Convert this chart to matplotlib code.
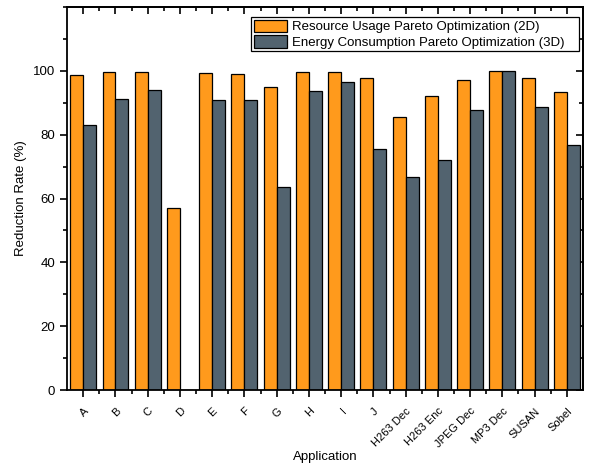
import matplotlib
matplotlib.use("Agg")
import matplotlib.pyplot as plt
import numpy as np
from matplotlib.ticker import MultipleLocator, FixedLocator

plt.rcParams['font.family'] = ['Liberation Sans', 'DejaVu Sans']

apps = ['A', 'B', 'C', 'D', 'E', 'F', 'G', 'H', 'I', 'J',
        'H263 Dec', 'H263 Enc', 'JPEG Dec', 'MP3 Dec', 'SUSAN', 'Sobel']
resource_2d = [98.8, 99.7, 99.7, 57.1, 99.2, 99.0, 94.8, 99.7, 99.7, 97.8,
               85.4, 92.2, 97.1, 100.0, 97.9, 93.5]
energy_3d = [83.0, 91.2, 93.9, 0.0, 90.8, 90.8, 63.6, 93.8, 96.6, 75.4,
             66.7, 72.1, 87.7, 99.8, 88.6, 76.8]

orange = '#FF9A1C'
slate = '#52636F'

fig = plt.figure(figsize=(5.89, 4.66), dpi=100)
ax = fig.add_axes([0.1138, 0.163, 0.876, 0.822])

x = np.arange(len(apps))
w = 0.4
ax.bar(x - w / 2, resource_2d, w, color=orange, edgecolor='black', linewidth=0.9,
       label='Resource Usage Pareto Optimization (2D)')
ax.bar(x + w / 2, energy_3d, w, color=slate, edgecolor='black', linewidth=0.9,
       label='Energy Consumption Pareto Optimization (3D)')

ax.set_xlim(-0.5, len(apps) - 0.5)
ax.set_ylim(0, 120)
ax.set_xticks(x)
ax.set_xticklabels(apps, rotation=45, ha='right', rotation_mode='anchor', fontsize=8)
ax.xaxis.set_minor_locator(FixedLocator(x[:-1] + 0.5))
ax.set_yticks([0, 20, 40, 60, 80, 100])
ax.yaxis.set_minor_locator(MultipleLocator(10))
ax.tick_params(axis='y', labelsize=9.5, direction='out', width=1.2, length=5)
ax.tick_params(axis='y', which='minor', direction='out', width=1.2, length=3)
ax.tick_params(axis='x', direction='out', width=1.2, length=5, pad=6.5)
ax.tick_params(axis='x', which='minor', direction='out', width=1.2, length=3)

# inward ticks on top and right
top = ax.secondary_xaxis('top')
top.set_xticks(x)
top.xaxis.set_minor_locator(FixedLocator(x[:-1] + 0.5))
top.tick_params(direction='in', width=1.2, length=5, labeltop=False)
top.tick_params(which='minor', direction='in', width=1.2, length=3)
right = ax.secondary_yaxis('right')
right.set_yticks([0, 20, 40, 60, 80, 100])
right.yaxis.set_minor_locator(MultipleLocator(10))
right.tick_params(direction='in', width=1.2, length=5, labelright=False)
right.tick_params(which='minor', direction='in', width=1.2, length=3)
for sp in list(ax.spines.values()) + [top.spines['top'], right.spines['right']]:
    sp.set_linewidth(1.3)

ax.set_xlabel('Application', fontsize=9.5, labelpad=1)
ax.set_ylabel('Reduction Rate (%)', fontsize=9.5)

leg = ax.legend(loc='upper right', bbox_to_anchor=(0.357, 0.5, 0.635, 0.474),
                mode='expand', fontsize=9.5,
                fancybox=False, framealpha=1, edgecolor='black',
                handlelength=2.5, handleheight=1.1, borderpad=0.2,
                labelspacing=0.12, handletextpad=0.4, borderaxespad=0)
leg.get_frame().set_linewidth(0.9)

fig.savefig('out.png', dpi=100)
